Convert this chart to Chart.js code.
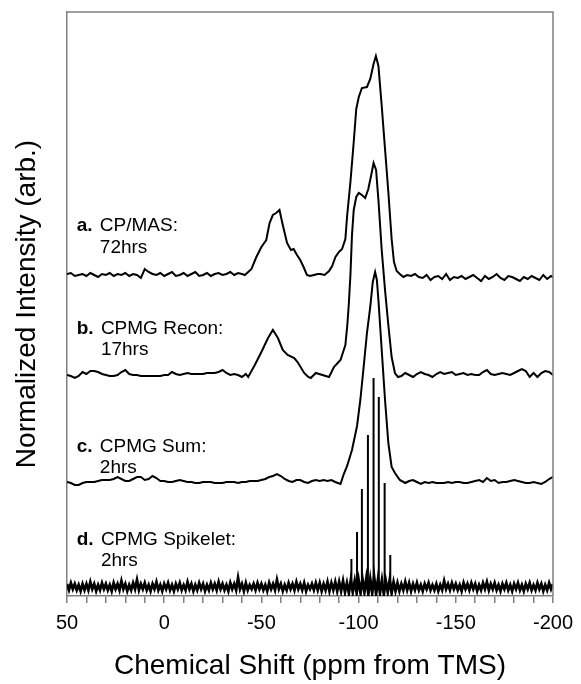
<!DOCTYPE html>
<html>
<head>
<meta charset="utf-8">
<script src="https://cdn.jsdelivr.net/npm/chart.js@4.4.1/dist/chart.umd.min.js"></script>
<style>
    html, body { margin: 0; padding: 0; background: #fff; }
    #wrap { width: 581px; height: 684px; }
</style>
</head>
<body>
<div id="wrap"><canvas id="nmrPlot" width="581" height="684"></canvas></div>
<script>
// vertical stacking offset of each trace (a, b, c, d)
const offsets = [321, 221, 114, 9];

const labelTags = ['a.', 'b.', 'c.', 'd.'];
const labelNames = ['CP/MAS:', 'CPMG Recon:', 'CPMG Sum:', 'CPMG Spikelet:'];
const labelTimes = ['72hrs', '17hrs', '2hrs', '2hrs'];

// a. CP/MAS
const shiftsA = [50, 48, 46, 44, 42, 40, 38, 36, 34, 32, 30, 28, 26, 24, 22, 20, 18, 16, 14, 12, 10, 8, 6, 4, 2, 0,
    -2, -4, -6, -8, -10, -12, -14, -16, -18, -20, -22, -24, -26, -28, -30, -32, -34, -36, -38, -40,
    -41.5, -44.9, -47.4, -50, -52.5, -54.2, -55.9, -57.6, -59.3, -61, -63.2, -65.2, -66.6, -68.3, -70, -71.7, -73.4,
    -75, -77, -79, -80.3, -82.5, -84.8, -86.4, -88.1, -89.9, -91.5, -93.2, -94.1, -95.8, -97.5, -98.8, -100.1,
    -101.7, -104.3, -106, -107.7, -108.9, -110.2, -111.9, -113.6, -115.3, -117, -118.2, -119.6, -121.2,
    -123, -125, -127, -129, -131, -133, -135, -137, -139, -141, -143, -145, -147, -149, -151, -153, -155, -157, -159,
    -161, -163, -165, -167, -169, -171, -173, -175, -177, -179, -181, -183, -185, -187, -189, -191, -193, -195, -197, -199, -200];
const intensA = [1, 2, -1, 0, 1, -1, 2, 0, -2, 1, 0, 2, -1, 1, 0, 2, -1, 1, 0, -3, 6, 3, 1, 0, 2, -1,
    1, 3, -1, 0, 2, -1, 1, 3, -1, 0, 2, -1, 1, 2, 0, 1, 3, 0, 2, 1,
    0, 6, 18, 28, 35, 52, 60, 62, 65, 50, 32, 25, 26, 20, 15, 8, 0,
    -1, 0, 1, 1, 0, 4, 9, 18, 23, 26, 36, 59, 93, 133, 166, 178,
    187, 188, 196, 211, 219, 209, 169, 126, 83, 36, 13, 4, 1,
    -2, 0, -1, 1, -2, -3, 0, -5, -2, -1, -4, 1, -5, -2, -3, -1, -4, -2, 0,
    -3, -6, -1, -4, -2, 1, -3, -5, -1, -2, -4, -6, -2, -4, -1, -3, -5, 0, -4, -1, -2];

// b. CPMG Recon
const shiftsB = [50, 48, 46, 44, 42, 40, 38, 36, 34, 32, 30, 28, 26, 24, 22, 20, 18, 16, 14, 12, 10, 8, 6, 4, 2, 0,
    -2, -4, -6, -8, -10, -12, -14, -16, -18, -20, -22, -24, -26, -28, -30, -32, -34, -36, -38, -40, -42,
    -43.2, -46.6, -50, -53.4, -55.9, -58.5, -61, -63.5, -66.9, -68.6, -72, -74.1, -75.4, -78, -81.4, -84.8,
    -87.3, -90.7, -93.2, -94.2, -95, -95.8, -96.6, -97.5, -98.8, -100.1, -101.7, -103.4, -105, -106.5, -107.7,
    -109, -110.2, -111.9, -113.6, -115.3, -117, -118.7, -120.3,
    -122, -124, -126, -128, -130, -132, -134, -136, -138, -140, -142, -144, -146, -148, -150, -152, -154, -156, -158, -160,
    -162, -164, -166, -168, -170, -172, -174, -176, -178, -180, -182, -184, -186, -188, -190, -192, -194, -196, -198, -200];
const intensB = [0, -1, -3, -1, 3, 1, 4, 4, 3, 1, 0, -1, -1, 0, 3, 5, 1, 0, 0, -1, -1, -1, -1, -1, -1, 0,
    0, 3, 1, 0, 1, 2, 1, 1, 1, 1, 2, 2, 2, 3, 5, 2, 0, 1, 0, -2, 1,
    -2, 10, 23, 37, 45, 37, 25, 20, 17, 13, 2, -2, -3, 2, 0, -2,
    8, 15, 30, 50, 72, 100, 140, 165, 178, 182, 180, 177, 186, 200, 212,
    205, 175, 125, 85, 50, 18, 2, -2,
    -1, 2, 0, -2, 1, 3, 1, 0, -2, 1, 3, 1, 2, 3, 0, 1, 2, 0, 1, 0,
    0, 3, 5, 1, 0, 1, 2, 1, 0, 2, 4, 6, 4, -2, 2, -2, 2, 4, 3, 0];

// c. CPMG Sum
const shiftsC = [50, 48, 46, 44, 42, 40, 38, 36, 34, 32, 30, 28, 26, 24, 22, 20, 18, 16, 14, 12, 10, 8, 6, 4, 2, 0,
    -2, -4, -6, -8, -10, -12, -14, -16, -18, -20, -22, -24, -26, -28, -30, -32, -34, -36, -38, -40, -42, -44, -46, -48,
    -50, -52, -54, -56, -58, -60, -62, -64, -66, -68, -70, -72, -74, -76, -78, -80, -82, -84, -86, -88,
    -90.7, -92.4, -94.1, -96.6, -99.2, -100.9, -102.6, -104.3, -106, -107.3, -108.5, -109.4, -110.2, -111.9, -113.6,
    -115.3, -117, -118.7, -121.2,
    -124, -126, -128, -130, -132, -134, -136, -138, -140, -142, -144, -146, -148, -150, -152, -154, -156, -158, -160,
    -162, -164, -166, -168, -170, -172, -174, -176, -178, -180, -182, -184, -186, -188, -190, -192, -194, -196, -198, -200];
const intensC = [0, -1, -3, -3, -1, 0, 0, 0, 1, 2, 2, 2, 3, 5, 3, 1, 1, 3, 5, 5, 2, 3, 6, 4, 1, 1,
    0, 0, 1, 2, 1, 0, 0, -1, -1, 0, 0, 0, -1, -1, -1, 0, 0, 0, -1, 0, 0, 1, 1, 1,
    2, 3, 5, 6, 8, 6, 3, 1, 0, 2, 2, 0, -1, 1, 2, 1, 2, 1, 2, 0,
    -2, 8, 16, 32, 56, 82, 115, 149, 175, 200, 210, 202, 182, 132, 82,
    39, 15, 9, 2,
    -1, 1, 2, 0, -2, 0, -1, 0, -1, -1, -1, 0, -1, 0, 0, -1, -1, 0, 1,
    2, 0, 4, 1, 2, -1, 0, 0, 1, 2, 1, 0, -1, -1, 0, -1, -2, 0, 3, 5];

// d. CPMG Spikelet: noise read every 1 ppm from 50 down to -200
const dStart = 50;
const dStep = -1;
const noiseD = [
    3, -3, 4, -2, 3, -3, 2, -4, 3, -3,
    3, -3, 5, -2, 3, -4, 2, -3, 4, -2,
    3, -3, 2, -4, 4, -2, 3, -3, 6, -2,
    3, -4, 2, -3, 4, -2, 7, -3, 3, -2,
    4, -3, 2, -4, 3, -2, 5, -3, 2, -4,
    3, -2, 4, -3, 2, -4, 3, -2, 4, -3,
    2, -3, 5, -2, 3, -4, 2, -3, 4, -2,
    3, -4, 2, -3, 4, -2, 3, -3, 5, -2,
    3, -3, 2, -4, 4, -2, 3, -3, 9, -2,
    3, -4, 4, -3, 2, -2, 3, -3, 4, -2,
    3, -3, 2, -4, 4, -2, 3, -3, 7, -2,
    3, -4, 2, -3, 4, -2, 3, -3, 5, -2,
    3, -3, 4, -4, 2, -2, 3, -3, 4, -3,
    4, -4, 3, -3, 5, -4, 4, -3, 5, -4,
    5, -4, 6, -5, 4, -6, 7, -5, 6, -6,
    7, -6, 8, -5, 9, -7, 8, -6, 10, -7,
    8, -6, 7, -7, 6, -5, 7, -6, 5, -4,
    4, -4, 3, -3, 5, -3, 4, -4, 3, -3,
    4, -3, 2, -4, 3, -2, 4, -3, 2, -3,
    3, -4, 2, -3, 6, -2, 3, -3, 4, -2,
    3, -3, 2, -4, 4, -2, 3, -3, 4, -2,
    3, -4, 2, -3, 4, -2, 5, -3, 3, -2,
    4, -3, 2, -4, 3, -2, 4, -3, 2, -4,
    3, -2, 4, -3, 2, -4, 3, -2, 4, -3,
    2, -3, 4, -2, 3, -4, 2, -3, 4, -2,
    3];
const spikeShifts = [-96.3, -99.2, -101.7, -104.8, -107.7, -110.4, -113.4, -116.3];
const spikeHeights = [28, 55, 98, 152, 209, 190, 104, 32];

const FONT = "'Liberation Sans', Arial, sans-serif";

function series(shifts, values, offset) {
    return shifts.map((s, i) => ({ x: s, y: values[i] + offset }));
}

const noiseData = noiseD.map((v, i) => ({ x: dStart + i * dStep, y: v + offsets[3] }));
const spikeData = [];
spikeShifts.forEach((s, i) => {
    spikeData.push({ x: s, y: offsets[3] });
    spikeData.push({ x: s, y: offsets[3] + spikeHeights[i] });
    spikeData.push({ x: s, y: null });
});

function trace(data, width) {
    return {
        data: data,
        borderColor: '#000',
        borderWidth: width,
        pointRadius: 0,
        tension: 0,
        fill: false,
        spanGaps: false
    };
}

// grey frame along top and right edges
const framePlugin = {
    id: 'frame',
    afterDraw(chart) {
        const { ctx, chartArea: { left, top, right, bottom } } = chart;
        ctx.save();
        ctx.strokeStyle = '#808080';
        ctx.lineWidth = 1.5;
        ctx.beginPath();
        ctx.moveTo(left, top);
        ctx.lineTo(right, top);
        ctx.lineTo(right, bottom);
        ctx.stroke();
        ctx.restore();
    }
};

// trace labels, e.g. "a. CP/MAS:" / "72hrs"
const labelRise = [[49, 27], [46, 25], [35, 14], [47, 26]];
const labelPlugin = {
    id: 'traceLabels',
    afterDatasetsDraw(chart) {
        const { ctx, scales: { x, y } } = chart;
        const left = x.getPixelForValue(45);
        ctx.save();
        ctx.fillStyle = '#000';
        ctx.textBaseline = 'middle';
        labelTags.forEach((tag, i) => {
            const y1 = y.getPixelForValue(offsets[i] + labelRise[i][0]);
            const y2 = y.getPixelForValue(offsets[i] + labelRise[i][1]);
            ctx.font = 'bold 19px ' + FONT;
            ctx.fillText(tag, left, y1);
            const indent = left + ctx.measureText(tag + ' ').width + 2;
            ctx.font = '19px ' + FONT;
            ctx.fillText(labelNames[i], indent, y1);
            ctx.fillText(labelTimes[i], indent, y2);
        });
        ctx.restore();
    }
};

const ctx = document.getElementById('nmrPlot').getContext('2d');
new Chart(ctx, {
    type: 'line',
    data: {
        datasets: [
            trace(series(shiftsA, intensA, offsets[0]), 2),
            trace(series(shiftsB, intensB, offsets[1]), 2),
            trace(series(shiftsC, intensC, offsets[2]), 2),
            trace(noiseData, 2.8),
            trace(spikeData, 2)
        ]
    },
    options: {
        responsive: false,
        devicePixelRatio: 1,
        animation: false,
        layout: { padding: { top: 12, right: 23, left: 0, bottom: 0 } },
        plugins: {
            legend: { display: false },
            tooltip: { enabled: false }
        },
        scales: {
            x: {
                type: 'linear',
                reverse: true,
                min: -200,
                max: 50,
                ticks: {
                    stepSize: 10,
                    autoSkip: false,
                    maxRotation: 0,
                    padding: 8,
                    color: '#000',
                    font: { size: 20, family: FONT },
                    callback: v => (v % 50 === 0 ? v : '')
                },
                grid: { drawOnChartArea: false, tickLength: 7, color: '#808080', lineWidth: 1.5 },
                border: { display: true, color: '#808080', width: 1.5 },
                title: {
                    display: true,
                    text: 'Chemical Shift (ppm from TMS)',
                    color: '#000',
                    font: { size: 28, family: FONT },
                    padding: { top: 0, bottom: 1 }
                },
                afterFit: s => { s.height = 88; }
            },
            y: {
                min: 0,
                max: 584,
                ticks: { display: false },
                grid: { display: false },
                border: { display: true, color: '#808080', width: 1.5 },
                title: {
                    display: true,
                    text: 'Normalized Intensity (arb.)',
                    color: '#000',
                    font: { size: 28, family: FONT },
                    padding: { top: 10, bottom: 0 }
                },
                afterFit: s => { s.width = 67; }
            }
        }
    },
    plugins: [framePlugin, labelPlugin]
});
</script>
</body>
</html>
